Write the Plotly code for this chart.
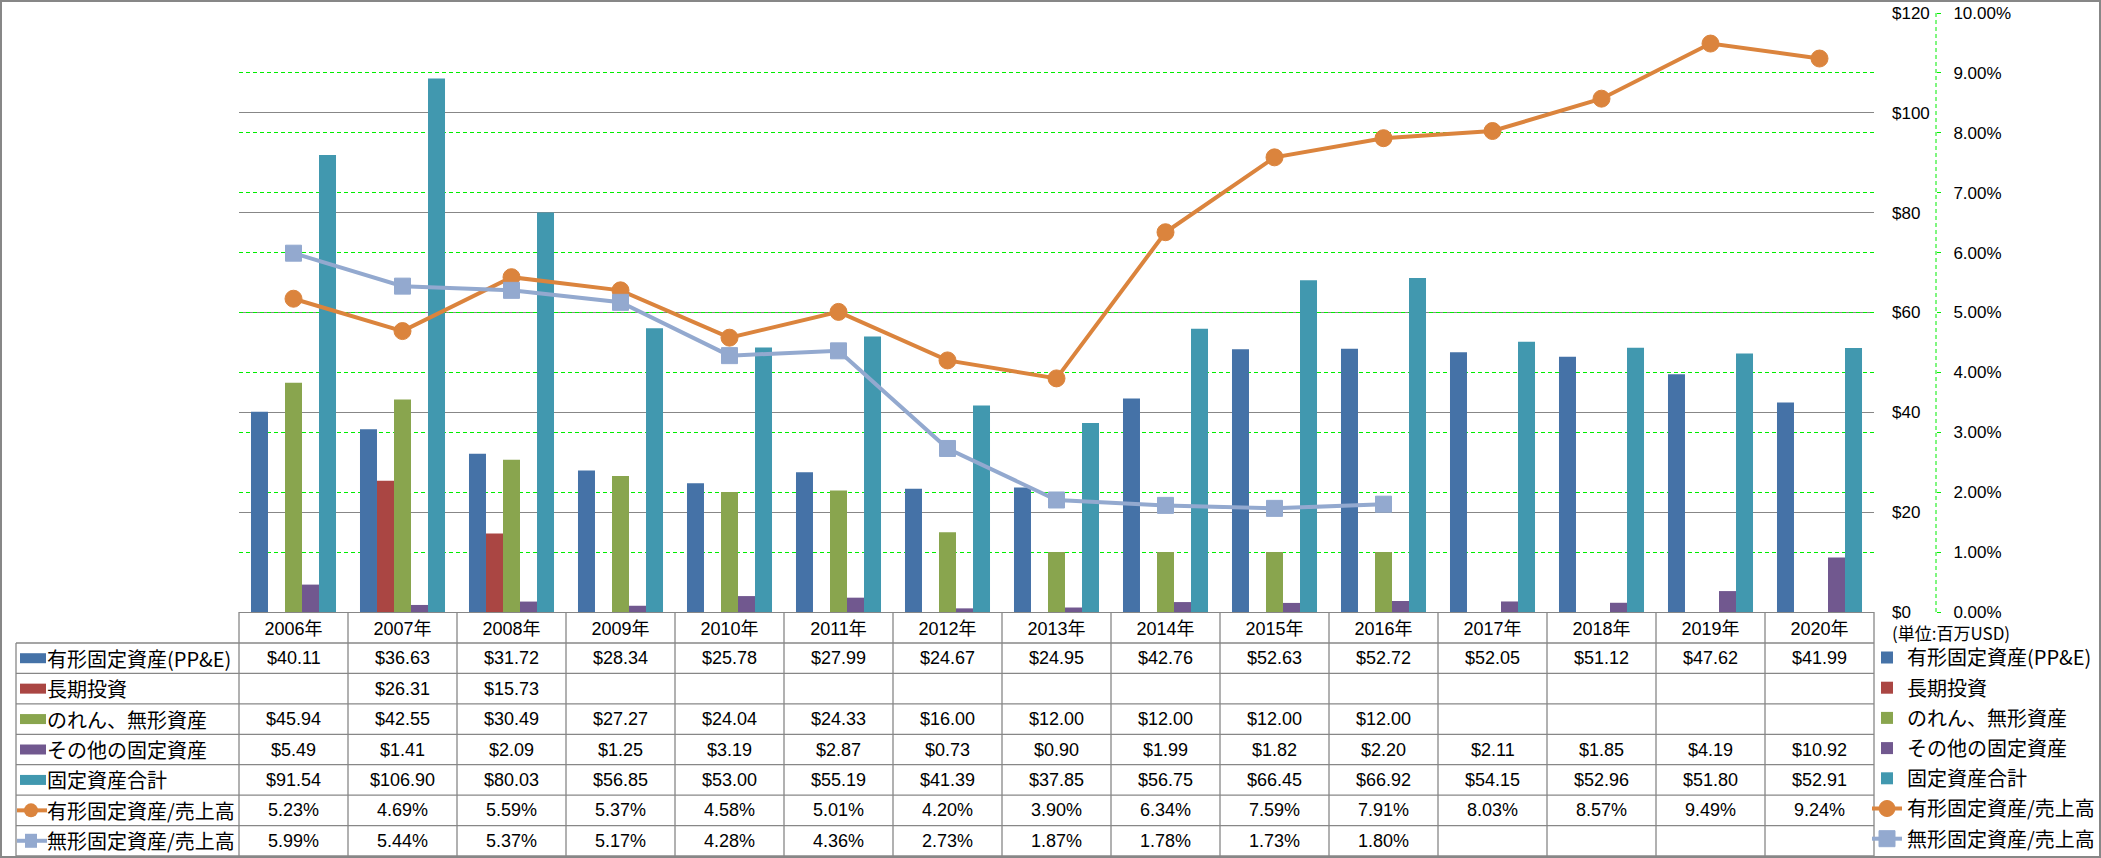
import plotly.graph_objects as go

# ---------------- data ----------------
years = ["2006年", "2007年", "2008年", "2009年", "2010年", "2011年", "2012年", "2013年",
         "2014年", "2015年", "2016年", "2017年", "2018年", "2019年", "2020年"]
ppe = [40.11, 36.63, 31.72, 28.34, 25.78, 27.99, 24.67, 24.95, 42.76, 52.63, 52.72, 52.05, 51.12, 47.62, 41.99]
lt_invest = [None, 26.31, 15.73, None, None, None, None, None, None, None, None, None, None, None, None]
goodwill = [45.94, 42.55, 30.49, 27.27, 24.04, 24.33, 16.00, 12.00, 12.00, 12.00, 12.00, None, None, None, None]
other = [5.49, 1.41, 2.09, 1.25, 3.19, 2.87, 0.73, 0.90, 1.99, 1.82, 2.20, 2.11, 1.85, 4.19, 10.92]
total = [91.54, 106.90, 80.03, 56.85, 53.00, 55.19, 41.39, 37.85, 56.75, 66.45, 66.92, 54.15, 52.96, 51.80, 52.91]
ppe_ratio = [5.23, 4.69, 5.59, 5.37, 4.58, 5.01, 4.20, 3.90, 6.34, 7.59, 7.91, 8.03, 8.57, 9.49, 9.24]
intang_ratio = [5.99, 5.44, 5.37, 5.17, 4.28, 4.36, 2.73, 1.87, 1.78, 1.73, 1.80, None, None, None, None]

bar_names = ["有形固定資産(PP&E)", "長期投資", "のれん、無形資産", "その他の固定資産", "固定資産合計"]
line_names = ["有形固定資産/売上高", "無形固定資産/売上高"]
unit_label = "(単位:百万USD)"

bar_colors = ["#4572A7", "#AA4643", "#89A54E", "#71588F", "#4198AF"]
line_colors = ["#DB843D", "#93A9CF"]

# ---------------- geometry helpers ----------------
W, H = 2101, 858
def fx(px):
    return px / W
def fy(py):
    return 1 - py / H

PL, PR, PT, PB = 239, 1874, 13, 612
TAB_TOP, TAB_BOT, TAB_LEFT = 643, 856, 16
ROW_H = (TAB_BOT - TAB_TOP) / 7
COL_W = (PR - PL) / len(years)
GRAY = "#878787"
GREEN = "#00EE00"
FONT_LAT = "Liberation Sans, Noto Sans CJK JP"
FONT_JP = "Noto Sans CJK JP"

fig = go.Figure()

bar_series = [ppe, lt_invest, goodwill, other, total]
for i, (name, vals, col) in enumerate(zip(bar_names, bar_series, bar_colors)):
    fig.add_trace(go.Bar(x=years, y=vals, name=name, marker=dict(color=col, line=dict(width=0)),
                         legendgroup=f"g{i}", xaxis="x", yaxis="y"))

ratio_series = [ppe_ratio, intang_ratio]
symbols = ["circle", "square"]
sizes = [17, 16]
for j, (name, vals, col, sym, sz) in enumerate(zip(line_names, ratio_series, line_colors, symbols, sizes)):
    fig.add_trace(go.Scatter(
        x=years, y=[v / 100 if v is not None else None for v in vals], name=name,
        mode="lines+markers", line=dict(color=col, width=4),
        marker=dict(symbol=sym, size=sz, color=col, line=dict(width=1, color=col)),
        legendgroup=f"l{j}", xaxis="x", yaxis="y2"))

# ---------------- table (shapes + annotations) ----------------
shapes = []
shapes.append(dict(type="rect", xref="paper", yref="paper", x0=fx(1), x1=fx(2100), y0=fy(857), y1=fy(1),
                   line=dict(color=GRAY, width=2), fillcolor="rgba(0,0,0,0)", layer="below"))
for r in range(8):
    y = TAB_TOP + ROW_H * r
    shapes.append(dict(type="line", xref="paper", yref="paper", x0=fx(TAB_LEFT), x1=fx(PR),
                       y0=fy(y), y1=fy(y), line=dict(color=GRAY, width=1.3)))
shapes.append(dict(type="line", xref="paper", yref="paper", x0=fx(TAB_LEFT), x1=fx(TAB_LEFT),
                   y0=fy(TAB_TOP), y1=fy(TAB_BOT), line=dict(color=GRAY, width=1.3)))
for k in range(len(years) + 1):
    x = PL + COL_W * k
    shapes.append(dict(type="line", xref="paper", yref="paper", x0=fx(x), x1=fx(x),
                       y0=fy(PB), y1=fy(TAB_BOT), line=dict(color=GRAY, width=1.3)))
shapes.append(dict(type="line", xref="paper", yref="paper", x0=fx(1936), x1=fx(1936),
                   y0=fy(PB), y1=fy(PT), line=dict(color=GREEN, width=1, dash="4px,3px")))

annotations = []
rows = [
    [f"${v:.2f}" if v is not None else "" for v in ppe],
    [f"${v:.2f}" if v is not None else "" for v in lt_invest],
    [f"${v:.2f}" if v is not None else "" for v in goodwill],
    [f"${v:.2f}" if v is not None else "" for v in other],
    [f"${v:.2f}" if v is not None else "" for v in total],
    [f"{v:.2f}%" if v is not None else "" for v in ppe_ratio],
    [f"{v:.2f}%" if v is not None else "" for v in intang_ratio],
]
for r, row in enumerate(rows):
    yc = TAB_TOP + ROW_H * (r + 0.5)
    for yr, txt in zip(years, row):
        if txt:
            annotations.append(dict(x=yr, y=fy(yc), xref="x", yref="paper", text=txt, showarrow=False,
                                    xanchor="center", yanchor="middle",
                                    font=dict(family=FONT_LAT, size=18, color="#000")))

all_names = bar_names + line_names
all_colors = bar_colors + line_colors
for r, (name, col) in enumerate(zip(all_names, all_colors)):
    yc = TAB_TOP + ROW_H * (r + 0.5)
    annotations.append(dict(x=fx(45), y=fy(yc), xref="paper", yref="paper", text=name, showarrow=False,
                            xanchor="left", yanchor="middle",
                            font=dict(family=FONT_JP, size=20, color="#000")))
    if r < 5:
        shapes.append(dict(type="rect", xref="paper", yref="paper", x0=fx(20), x1=fx(46),
                           y0=fy(yc + 5), y1=fy(yc - 5), fillcolor=col, line=dict(width=0)))
    else:
        shapes.append(dict(type="line", xref="paper", yref="paper", x0=fx(17), x1=fx(47),
                           y0=fy(yc), y1=fy(yc), line=dict(color=col, width=4)))
        if r == 5:
            shapes.append(dict(type="circle", xref="paper", yref="paper", x0=fx(24), x1=fx(38),
                               y0=fy(yc + 7), y1=fy(yc - 7), fillcolor=col, line=dict(width=0)))
        else:
            shapes.append(dict(type="rect", xref="paper", yref="paper", x0=fx(25), x1=fx(37),
                               y0=fy(yc + 7), y1=fy(yc - 7), fillcolor=col, line=dict(width=0)))

annotations.append(dict(x=fx(1890), y=fy(632), xref="paper", yref="paper", text=unit_label,
                        showarrow=False, xanchor="left", yanchor="middle",
                        font=dict(family=FONT_JP, size=17, color="#000")))

fig.update_layout(
    width=W, height=H,
    margin=dict(l=0, r=0, t=0, b=0, autoexpand=False),
    paper_bgcolor="white", plot_bgcolor="white",
    font=dict(family=FONT_LAT, size=17, color="#000"),
    barmode="group", bargap=0.22, bargroupgap=0,
    xaxis=dict(domain=[fx(PL), fx(PR)], type="category", range=[-0.5, len(years) - 0.5],
               showgrid=False, showline=True, linecolor=GRAY, linewidth=1,
               ticks="", tickfont=dict(family=FONT_LAT, size=18, color="#000"),
               ticklabelstandoff=0, fixedrange=True),
    yaxis=dict(domain=[fy(PB), fy(PT)], side="right", range=[0, 120], dtick=20,
               tickprefix="$", showgrid=True, gridcolor=GRAY, gridwidth=1,
               zeroline=True, zerolinecolor=GRAY, zerolinewidth=1,
               showline=False, ticks="", ticklabelstandoff=17,
               tickfont=dict(family=FONT_LAT, size=17, color="#000")),
    yaxis2=dict(overlaying="y", side="right", anchor="free", position=fx(1936),
                range=[0, 0.10], dtick=0.01, tickformat=".2%",
                showgrid=True, gridcolor=GREEN, gridwidth=1, griddash="4px,3px",
                zeroline=False, showline=False,
                ticks="outside", ticklen=4, tickcolor=GREEN, tickwidth=1,
                ticklabelstandoff=9,
                tickfont=dict(family=FONT_LAT, size=17, color="#000")),
    legend=dict(x=fx(1867), xanchor="left", y=fy(638), yanchor="top",
                font=dict(family=FONT_JP, size=20, color="#000"),
                bgcolor="rgba(0,0,0,0)", borderwidth=0, tracegroupgap=1.2,
                traceorder="grouped", itemclick=False, itemdoubleclick=False),
    shapes=shapes,
    annotations=annotations,
    showlegend=True,
)

fig.write_html("out.html", config={"displayModeBar": False},
               post_script="document.body.style.margin='0px';document.body.style.padding='0px';")
